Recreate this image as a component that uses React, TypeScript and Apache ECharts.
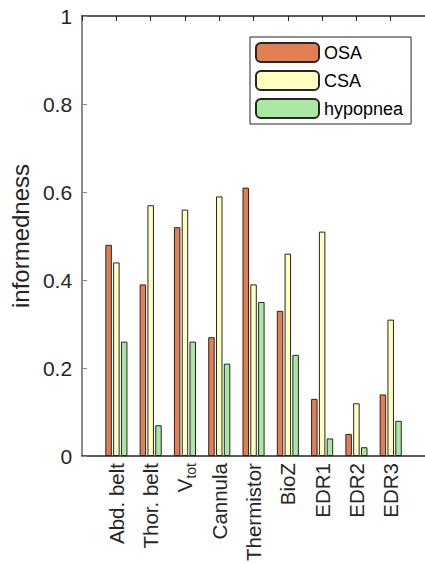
import React, { useEffect, useRef } from "react";
import * as echarts from "echarts";

const categories = ["Abd. belt", "Thor. belt", "V_tot", "Cannula", "Thermistor", "BioZ", "EDR1", "EDR2", "EDR3"];
const osa = [0.48, 0.39, 0.52, 0.27, 0.61, 0.33, 0.13, 0.05, 0.14];
const csa = [0.44, 0.57, 0.56, 0.59, 0.39, 0.46, 0.51, 0.12, 0.31];
const hypopnea = [0.26, 0.07, 0.26, 0.21, 0.35, 0.23, 0.04, 0.02, 0.08];
const seriesNames = ["OSA", "CSA", "hypopnea"];
const colors = ["#E37E52", "#FFFFC0", "#A8E8A2"];

const FONT = "Liberation Sans, Arial, Helvetica, sans-serif";

export default function App() {
  const ref = useRef<HTMLDivElement>(null);
  useEffect(() => {
    if (!ref.current) return;
    const chart = echarts.init(ref.current, undefined, { renderer: "svg" });
    const all = [osa, csa, hypopnea];
    const series = all.map((vals, si) => ({
      name: seriesNames[si],
      type: "bar" as const,
      xAxisIndex: 0,
      yAxisIndex: 0,
      barWidth: 6.5,
      barGap: "20%",
      data: vals.map((v, i) => [i + 1, v]),
      itemStyle: { color: colors[si], borderColor: "#262626", borderWidth: 1 },
    }));
    const xBase = {
      type: "value" as const,
      min: 0,
      max: 10,
      interval: 1,
      splitLine: { show: false },
    };
    chart.setOption({
      animation: false,
      textStyle: { fontFamily: FONT },
      grid: { left: 82, top: 16, width: 353, height: 444 },
      legend: {
        orient: "vertical",
        left: 250,
        top: 37,
        itemWidth: 63,
        itemHeight: 19,
        itemGap: 7,
        padding: [5, 8, 5, 5],
        borderColor: "#262626",
        borderWidth: 1,
        backgroundColor: "#fff",
        textStyle: { fontSize: 18, color: "#000", fontFamily: FONT },
        data: seriesNames,
      },
      xAxis: [
        {
          ...xBase,
          position: "bottom",
          axisLine: { show: true, lineStyle: { color: "#262626", width: 1.5 } },
          axisTick: { show: true, inside: true, length: 5, lineStyle: { color: "#262626" } },
          axisLabel: {
            rotate: 90,
            margin: 7,
            fontSize: 20.5,
            color: "#262626",
            fontFamily: FONT,
            showMinLabel: false,
            showMaxLabel: false,
            formatter: (v: number) => {
              const idx = Math.round(v) - 1;
              if (idx < 0 || idx >= categories.length || Math.abs(v - Math.round(v)) > 1e-6) return "";
              const c = categories[idx];
              if (c === "V_tot") return "{a|V}{b|tot}";
              return c;
            },
            rich: {
              a: { fontSize: 20.5, color: "#262626", fontFamily: FONT },
              b: { fontSize: 14, color: "#262626", fontFamily: FONT, padding: [12, 0, 0, 0] },
            },
          },
        },
        {
          ...xBase,
          position: "top",
          axisLine: { show: true, lineStyle: { color: "#262626", width: 1.5 } },
          axisTick: { show: true, inside: true, length: 5, lineStyle: { color: "#262626" } },
          axisLabel: { show: false },
        },
      ],
      yAxis: {
        type: "value",
        min: 0,
        max: 1,
        interval: 0.2,
        name: "informedness",
        nameLocation: "middle",
        nameRotate: 90,
        nameGap: 48,
        nameTextStyle: { fontSize: 24, color: "#262626", fontFamily: FONT },
        splitLine: { show: false },
        axisLine: { show: true, lineStyle: { color: "#8a8a8a", width: 2 } },
        axisTick: { show: true, inside: true, length: 5, lineStyle: { color: "#8a8a8a" } },
        axisLabel: { fontSize: 21, color: "#262626", margin: 10, fontFamily: FONT },
      },
      series,
    });
    return () => chart.dispose();
  }, []);
  return (
    <div
      ref={ref}
      style={{ position: "absolute", left: 0, top: 0, width: 425, height: 564, background: "#fff" }}
    />
  );
}
